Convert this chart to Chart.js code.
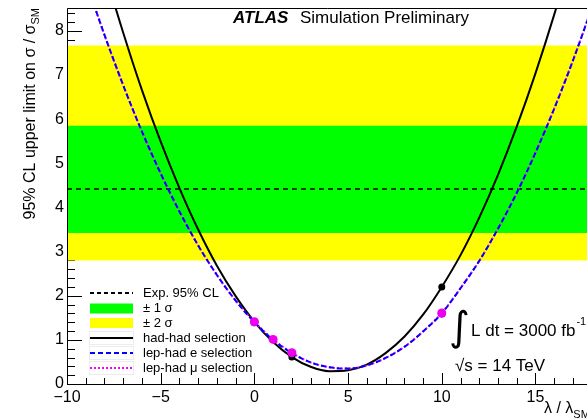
<!DOCTYPE html>
<html>
<head>
<meta charset="utf-8">
<script src="https://cdn.jsdelivr.net/npm/chart.js@4/dist/chart.umd.min.js"></script>
<style>
  html, body { margin: 0; padding: 0; background: #fff; overflow: hidden; }
  #wrap { width: 587px; height: 419px; }
</style>
</head>
<body>
<div id="wrap"><canvas id="c" width="587" height="419"></canvas></div>
<script>
// lambda / lambda_SM grid on which the limits are plotted
const lambdaGrid = [-9, -8, -7, -6, -5, -4, -3, -2, -1, 0, 1, 2, 3, 4, 5, 6, 7, 8, 9, 10, 11, 12, 13, 14, 15, 16, 17, 18];

// 95% CL upper limit on sigma / sigma_SM per channel
const hadHad   = [10.9, 9.37, 7.96, 6.66, 5.49, 4.44, 3.50, 2.68, 1.99, 1.41, 0.95, 0.61, 0.39, 0.29, 0.31, 0.44, 0.70, 1.07, 1.57, 2.20, 2.92, 3.77, 4.74, 5.83, 7.04, 8.37, 9.82, 11.4];
const lepHadE  = [9.14, 7.91, 6.77, 5.72, 4.77, 3.91, 3.14, 2.47, 1.89, 1.40, 1.00, 0.70, 0.49, 0.38, 0.35, 0.42, 0.59, 0.84, 1.19, 1.60, 2.17, 2.79, 3.52, 4.33, 5.24, 6.24, 7.33, 8.51];
const lepHadMu = [9.14, 7.91, 6.77, 5.72, 4.77, 3.91, 3.14, 2.47, 1.89, 1.41, 1.01, 0.71, 0.49, 0.38, 0.35, 0.42, 0.59, 0.84, 1.19, 1.61, 2.17, 2.79, 3.52, 4.33, 5.24, 6.24, 7.33, 8.51];

// simulated points
const hadHadPtsX   = [0, 2, 10];
const hadHadPtsY   = [1.41, 0.61, 2.20];
const lepHadEPtsX  = [0, 2, 10];
const lepHadEPtsY  = [1.40, 0.70, 1.60];
const lepHadMuPtsX = [0, 1, 2, 10];
const lepHadMuPtsY = [1.41, 1.01, 0.71, 1.61];

// expected limit and its bands
const expLimit = 4.42;
const band1Sigma = [3.42, 5.85];
const band2Sigma = [2.80, 7.67];

// axis ticks
const xTickValues = [-10, -5, 0, 5, 10, 15];
const yTickValues = [0, 1, 2, 3, 4, 5, 6, 7, 8];

const X_MIN = -10, X_MAX = 17.75, Y_MIN = 0, Y_MAX = 8.52;
const FONT = '"Liberation Sans", Arial, Helvetica, sans-serif';

const pts = (xs, ys) => xs.map((x, i) => ({ x, y: ys[i] }));
const flat = (y) => [{ x: X_MIN, y }, { x: 18, y }];

// inward-pointing ticks, drawn beneath the bands
const tickPlugin = {
  id: 'rootTicks',
  beforeDatasetsDraw(chart) {
    const { ctx, chartArea: a, scales: { x, y } } = chart;
    ctx.save();
    ctx.strokeStyle = '#000';
    ctx.lineWidth = 1;
    ctx.beginPath();
    for (let i = 0; i <= 42; i++) {
      const v = i * 0.2;
      if (v > Y_MAX) break;
      const py = Math.round(y.getPixelForValue(v)) + 0.5;
      const major = Math.abs(v - Math.round(v)) < 1e-6;
      ctx.moveTo(a.left, py);
      ctx.lineTo(a.left + (major ? 15 : 8), py);
    }
    for (let v = -10; v <= 17; v++) {
      const px = Math.round(x.getPixelForValue(v)) + 0.5;
      const major = v % 5 === 0;
      ctx.moveTo(px, a.bottom);
      ctx.lineTo(px, a.bottom - (major ? 11 : 6));
    }
    ctx.stroke();
    ctx.restore();
  }
};

// frame, legend and annotations
const overlayPlugin = {
  id: 'overlay',
  afterDatasetsDraw(chart) {
    const { ctx, chartArea: a } = chart;
    ctx.save();
    ctx.strokeStyle = '#000';
    ctx.lineWidth = 1;
    ctx.beginPath();
    ctx.moveTo(a.left + 0.5, a.top + 0.5);
    ctx.lineTo(a.left + 0.5, a.bottom + 0.5);
    ctx.lineTo(chart.width, a.bottom + 0.5);
    ctx.moveTo(a.left + 0.5, a.top + 0.5);
    ctx.lineTo(chart.width, a.top + 0.5);
    ctx.stroke();
    ctx.restore();
  },
  afterDraw(chart) {
    const { ctx } = chart;
    ctx.save();
    ctx.fillStyle = '#000';
    ctx.textBaseline = 'alphabetic';

    // header
    ctx.font = 'italic bold 17px ' + FONT;
    ctx.fillText('ATLAS', 233, 23);
    ctx.font = '17px ' + FONT;
    ctx.fillText('Simulation Preliminary', 300, 23);

    // luminosity and energy
    ctx.font = '40px "DejaVu Sans", ' + FONT;
    ctx.fillText('\u222B', 449, 340);
    ctx.font = '17px ' + FONT;
    ctx.fillText('L dt = 3000 fb', 471, 336);
    const w = ctx.measureText('L dt = 3000 fb').width;
    ctx.font = '11px ' + FONT;
    ctx.fillText('-1', 471 + w + 1, 325);
    ctx.font = '17px ' + FONT;
    ctx.fillText('\u221As = 14 TeV', 455, 371);

    // x-axis title
    ctx.font = '16px ' + FONT;
    ctx.fillText('\u03BB / \u03BB', 544, 413);
    const wx = ctx.measureText('\u03BB / \u03BB').width;
    ctx.font = '11px ' + FONT;
    ctx.fillText('SM', 544 + wx, 418);

    // y-axis title, right-aligned to the top of the frame
    ctx.save();
    ctx.translate(35, 8);
    ctx.rotate(-Math.PI / 2);
    ctx.font = '11px ' + FONT;
    const wsub = ctx.measureText('SM').width;
    ctx.textAlign = 'right';
    ctx.fillText('SM', 0, 4);
    ctx.font = '16px ' + FONT;
    ctx.fillText('95% CL upper limit on \u03C3 / \u03C3', -wsub, 0);
    ctx.restore();

    // legend
    const lx0 = 90, lx1 = 133, tx = 143;
    const rows = [293, 308.5, 323, 338, 353, 368];
    ctx.font = '13px ' + FONT;
    ctx.textBaseline = 'middle';
    const labels = ['Exp. 95% CL', '\u00B1 1 \u03C3', '\u00B1 2 \u03C3', 'had-had selection', 'lep-had e selection', 'lep-had \u03BC selection'];
    labels.forEach((t, i) => ctx.fillText(t, tx, rows[i]));

    ctx.lineWidth = 1;
    ctx.strokeStyle = '#ececec';
    for (let i = 3; i < 6; i++) ctx.strokeRect(lx0 - 0.5, rows[i] - 6.5, lx1 - lx0 + 1, 13);

    ctx.fillStyle = '#00ff00';
    ctx.fillRect(lx0, rows[1] - 5, lx1 - lx0, 10);
    ctx.fillStyle = '#ffff00';
    ctx.fillRect(lx0, rows[2] - 5, lx1 - lx0, 10);

    const seg = (y, color, width, dash) => {
      ctx.beginPath();
      ctx.setLineDash(dash);
      ctx.strokeStyle = color;
      ctx.lineWidth = width;
      ctx.moveTo(lx0, y);
      ctx.lineTo(lx1, y);
      ctx.stroke();
    };
    seg(rows[0], '#000', 2, [4, 3]);
    seg(rows[3], '#000', 2, []);
    seg(rows[4], '#0000ff', 2, [5, 3]);
    seg(rows[5], '#ff00ff', 2, [2, 2]);
    ctx.restore();
  }
};

const lineDs = (label, ys, color, dash, order) => ({
  type: 'line', label,
  data: pts(lambdaGrid, ys),
  borderColor: color, borderWidth: 2, borderDash: dash,
  pointRadius: 0, fill: false, cubicInterpolationMode: 'monotone', order
});
const ptDs = (label, xs, ys, color, r, order) => ({
  type: 'scatter', label,
  data: pts(xs, ys),
  backgroundColor: color, borderColor: color, borderWidth: 0,
  pointRadius: r, showLine: false, order
});

new Chart(document.getElementById('c'), {
  type: 'line',
  data: {
    datasets: [
      { label: '\u00B1 2 \u03C3', data: flat(band2Sigma[1]), fill: { value: band2Sigma[0] },
        backgroundColor: '#ffff00', borderWidth: 0, pointRadius: 0, order: 20 },
      { label: '\u00B1 1 \u03C3', data: flat(band1Sigma[1]), fill: { value: band1Sigma[0] },
        backgroundColor: '#00ff00', borderWidth: 0, pointRadius: 0, order: 19 },
      { label: 'Exp. 95% CL', data: flat(expLimit), fill: false,
        borderColor: '#000', borderWidth: 1.5, borderDash: [5, 4], pointRadius: 0, order: 18 },
      lineDs('had-had selection', hadHad, '#000', [], 10),
      lineDs('lep-had \u03BC selection', lepHadMu, '#ff00ff', [2, 2], 9),
      lineDs('lep-had e selection', lepHadE, '#0000ff', [5, 3], 8),
      ptDs('had-had points', hadHadPtsX, hadHadPtsY, '#000', 3.5, 5),
      ptDs('lep-had e points', lepHadEPtsX, lepHadEPtsY, '#0000ff', 4, 4),
      ptDs('lep-had \u03BC points', lepHadMuPtsX, lepHadMuPtsY, '#ee00ee', 4.5, 3)
    ]
  },
  options: {
    responsive: false,
    animation: false,
    events: [],
    layout: { autoPadding: false, padding: { top: 8, right: 0, left: 0, bottom: 0 } },
    plugins: { legend: { display: false }, tooltip: { enabled: false }, title: { display: false } },
    scales: {
      x: {
        type: 'linear', min: X_MIN, max: X_MAX,
        grid: { display: false, drawTicks: false },
        border: { display: false },
        afterFit: (s) => { s.height = 35; s.paddingLeft = 0; s.paddingRight = 0; },
        afterBuildTicks: (s) => { s.ticks = xTickValues.map(v => ({ value: v })); },
        ticks: {
          color: '#000', padding: 4, maxRotation: 0, autoSkip: false,
          font: { family: FONT, size: 16 },
          callback: (v) => (v < 0 ? '\u2212' + Math.abs(v) : String(v))
        }
      },
      y: {
        type: 'linear', min: Y_MIN, max: Y_MAX,
        grid: { display: false, drawTicks: false },
        border: { display: false },
        afterFit: (s) => { s.width = 67; s.paddingTop = 0; s.paddingBottom = 0; },
        afterBuildTicks: (s) => { s.ticks = yTickValues.map(v => ({ value: v })); },
        ticks: {
          color: '#000', padding: 3, autoSkip: false,
          font: { family: FONT, size: 16 }
        }
      }
    }
  },
  plugins: [tickPlugin, overlayPlugin]
});
</script>
</body>
</html>
